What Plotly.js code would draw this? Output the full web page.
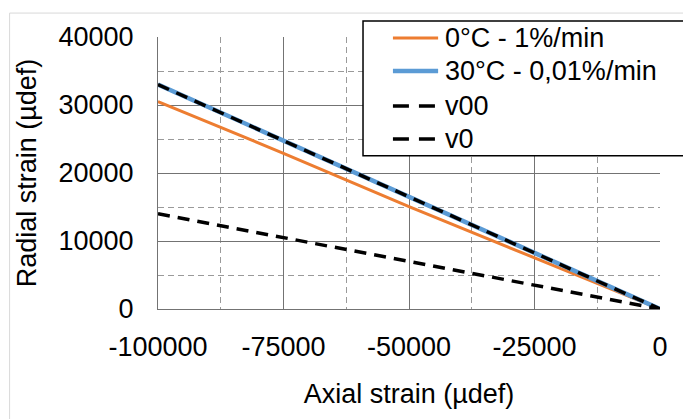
<!DOCTYPE html>
<html>
<head>
<meta charset="utf-8">
<script src="https://cdn.plot.ly/plotly-3.0.1.min.js"></script>
<style>html,body{margin:0;padding:0;background:#fff;}#chart{width:683px;height:419px;}</style>
</head>
<body>
<div id="chart"></div>
<script>
// Data
var axialStrain = [-100000, -75000, -50000, -25000, 0];
var radial0C = [30500, 22900, 15050, 7500, 0];
var radial30C = [33000, 24800, 16500, 8250, 0];
var v00 = [33000, 0];
var v0 = [14000, 0];
var lineX = [-100000, 0];

var seriesNames = ['0°C - 1%/min', '30°C - 0,01%/min', 'v00', 'v0'];
var seriesColors = ['#ED7D31', '#5B9BD5', '#000000', '#000000'];
var seriesWidths = [3, 4.5, 3.5, 3.5];
var seriesDash = ['solid', 'solid', '12px,8px', '12px,8px'];
var xTickVals = [-100000, -75000, -50000, -25000, 0];
var xTickText = ['-100000', '-75000', '-50000', '-25000', '0'];
var yTickVals = [0, 10000, 20000, 30000, 40000];
var yTickText = ['0', '10000', '20000', '30000', '40000'];

var FONT = 'Liberation Sans, Arial, sans-serif';

var seriesY = [radial0C, radial30C, v00, v0];
var seriesX = [axialStrain, axialStrain, lineX, lineX];
var traces = seriesNames.map(function (n, i) {
  return {x: seriesX[i], y: seriesY[i], name: n, mode: 'lines',
          line: {color: seriesColors[i], width: seriesWidths[i], dash: seriesDash[i]}};
});

// manual legend (box clipped by the right edge like the reference)
var legRowsY = [0.9963, 0.8751, 0.7466, 0.6254];
var shapes = [
  {type: 'rect', xref: 'paper', yref: 'paper', x0: -0.2956, x1: 1.2, y0: -0.5, y1: 1.088,
   line: {color: '#d9d9d9', width: 1}, fillcolor: 'rgba(0,0,0,0)', layer: 'below'},
  {type: 'rect', xref: 'paper', yref: 'paper', x0: 0.4084, x1: 1.1, y0: 0.563, y1: 1.0588,
   line: {color: '#000000', width: 1.5}, fillcolor: '#ffffff', layer: 'above'}
];
var annotations = [];
seriesNames.forEach(function (n, i) {
  shapes.push({type: 'line', xref: 'paper', yref: 'paper', x0: 0.468, x1: 0.558,
    y0: legRowsY[i], y1: legRowsY[i], layer: 'above',
    line: {color: seriesColors[i], width: seriesWidths[i], dash: i >= 2 ? '16px,10px' : 'solid'}});
  annotations.push({xref: 'paper', yref: 'paper', x: 0.5677, y: legRowsY[i],
    xanchor: 'left', yanchor: 'middle', showarrow: false, text: n,
    font: {family: FONT, size: 27, color: '#000000'}});
});

var layout = {
  width: 683, height: 419,
  margin: {l: 158, r: 23, t: 37, b: 110, pad: 0},
  paper_bgcolor: '#ffffff', plot_bgcolor: '#ffffff',
  font: {family: FONT, size: 27, color: '#000000'},
  showlegend: false,
  xaxis: {
    range: [-100000, 0], tickmode: 'array', tickvals: xTickVals, ticktext: xTickText,
    showgrid: true, gridcolor: '#737373', gridwidth: 1,
    zeroline: false, showline: true, linecolor: '#737373', linewidth: 1,
    ticks: '', ticklabelstandoff: 14,
    minor: {dtick: 12500, tick0: 0, showgrid: true, gridcolor: '#9a9a9a', griddash: '6px,4px', gridwidth: 1},
    title: {text: 'Axial strain (µdef)', font: {family: FONT, size: 27}, standoff: 22},
    fixedrange: true
  },
  yaxis: {
    range: [0, 40000], tickmode: 'array', tickvals: yTickVals, ticktext: yTickText,
    showgrid: true, gridcolor: '#737373', gridwidth: 1,
    zeroline: false, showline: true, linecolor: '#737373', linewidth: 1,
    ticks: '', ticklabelstandoff: 18,
    minor: {dtick: 5000, tick0: 0, showgrid: true, gridcolor: '#9a9a9a', griddash: '6px,4px', gridwidth: 1},
    title: {text: 'Radial strain (µdef)', font: {family: FONT, size: 27}, standoff: 14},
    fixedrange: true
  },
  shapes: shapes,
  annotations: annotations
};

Plotly.newPlot('chart', traces, layout, {staticPlot: true, displayModeBar: false});
</script>
</body>
</html>
